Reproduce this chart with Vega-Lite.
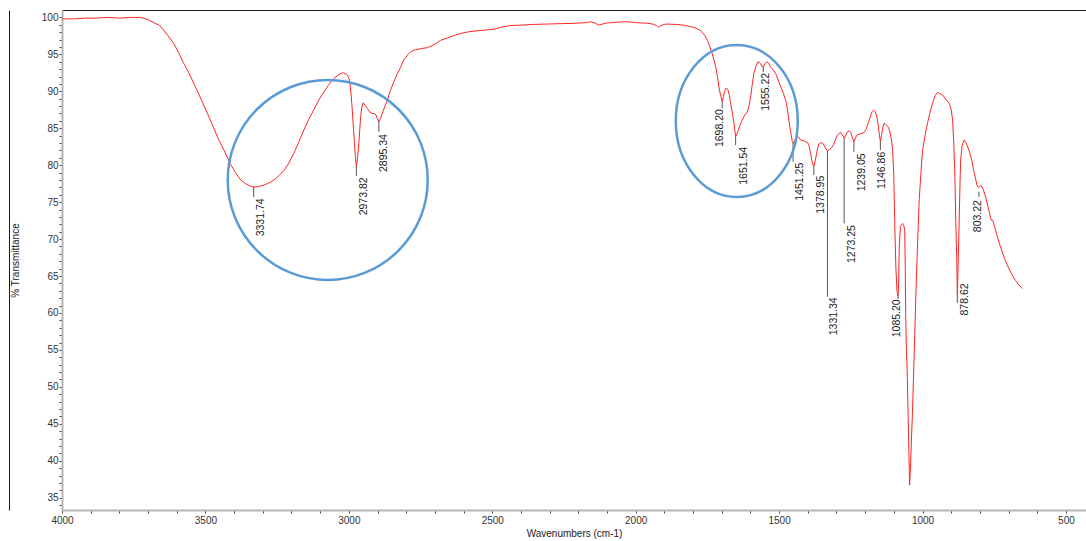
{
"$schema":"https://vega.github.io/schema/vega-lite/v6.json",
"width":1024,"height":500,
"autosize":{"type":"none"},
"padding":{"left":62,"top":10,"right":0,"bottom":31},
"background":"#ffffff",
"config":{"view":{"stroke":null},"font":"Liberation Sans","axis":{"labelFont":"Liberation Sans","titleFont":"Liberation Sans","grid":false}},
"datasets":{
"spectrum":[
{"wn":4000,"T":99.8},{"wn":3960,"T":99.8},{"wn":3920,"T":99.9},{"wn":3880,"T":99.9},{"wn":3840,"T":100.0},{"wn":3800,"T":99.9},{"wn":3760,"T":100.0},{"wn":3726,"T":100.0},{"wn":3700,"T":99.7},{"wn":3680,"T":99.3},{"wn":3660,"T":98.9},{"wn":3646,"T":98.3},{"wn":3630,"T":97.5},{"wn":3611,"T":96.5},{"wn":3593,"T":95.2},{"wn":3576,"T":93.8},{"wn":3558,"T":92.5},{"wn":3541,"T":91.1},{"wn":3517,"T":89.1},{"wn":3493,"T":87.0},{"wn":3475,"T":85.4},{"wn":3458,"T":83.8},{"wn":3435,"T":82.0},{"wn":3412,"T":80.1},{"wn":3395,"T":79.0},{"wn":3377,"T":78.0},{"wn":3360,"T":77.5},{"wn":3345,"T":77.2},{"wn":3331.74,"T":77.05},{"wn":3315,"T":77.1},{"wn":3296,"T":77.3},{"wn":3278,"T":77.6},{"wn":3261,"T":78.0},{"wn":3243,"T":78.6},{"wn":3226,"T":79.3},{"wn":3209,"T":80.3},{"wn":3192,"T":81.6},{"wn":3175,"T":83.1},{"wn":3157,"T":84.75},{"wn":3140,"T":86.2},{"wn":3122,"T":87.5},{"wn":3105,"T":88.8},{"wn":3087,"T":89.9},{"wn":3070,"T":90.9},{"wn":3052,"T":91.75},{"wn":3037,"T":92.2},{"wn":3023,"T":92.5},{"wn":3012,"T":92.4},{"wn":3005,"T":92.2},{"wn":3000,"T":91.8},{"wn":2996,"T":91.1},{"wn":2992,"T":89.5},{"wn":2988,"T":87.5},{"wn":2984,"T":85.0},{"wn":2980,"T":82.9},{"wn":2977,"T":81.0},{"wn":2973.82,"T":79.85},{"wn":2970,"T":80.8},{"wn":2965,"T":83.0},{"wn":2959,"T":86.5},{"wn":2954,"T":88.0},{"wn":2950,"T":88.45},{"wn":2943,"T":88.1},{"wn":2936,"T":87.7},{"wn":2927,"T":87.2},{"wn":2918,"T":87.0},{"wn":2912,"T":87.0},{"wn":2907,"T":86.9},{"wn":2900,"T":86.3},{"wn":2895.34,"T":85.85},{"wn":2890,"T":86.3},{"wn":2880,"T":87.4},{"wn":2866,"T":88.8},{"wn":2855,"T":90.1},{"wn":2843,"T":91.3},{"wn":2832,"T":92.3},{"wn":2820,"T":93.2},{"wn":2808,"T":94.3},{"wn":2791,"T":95.1},{"wn":2778,"T":95.5},{"wn":2767,"T":95.6},{"wn":2745,"T":95.8},{"wn":2726,"T":95.9},{"wn":2703,"T":96.3},{"wn":2680,"T":96.9},{"wn":2650,"T":97.3},{"wn":2622,"T":97.7},{"wn":2590,"T":98.0},{"wn":2552,"T":98.2},{"wn":2520,"T":98.3},{"wn":2494,"T":98.4},{"wn":2465,"T":98.7},{"wn":2436,"T":98.9},{"wn":2400,"T":98.95},{"wn":2355,"T":99.05},{"wn":2310,"T":99.1},{"wn":2262,"T":99.15},{"wn":2215,"T":99.2},{"wn":2168,"T":99.3},{"wn":2157,"T":99.4},{"wn":2145,"T":99.3},{"wn":2135,"T":99.1},{"wn":2128,"T":98.95},{"wn":2115,"T":99.1},{"wn":2100,"T":99.25},{"wn":2076,"T":99.3},{"wn":2050,"T":99.4},{"wn":2029,"T":99.4},{"wn":2000,"T":99.3},{"wn":1980,"T":99.25},{"wn":1959,"T":99.2},{"wn":1940,"T":99.1},{"wn":1928,"T":98.9},{"wn":1921,"T":98.65},{"wn":1912,"T":98.9},{"wn":1900,"T":99.05},{"wn":1890,"T":99.1},{"wn":1860,"T":99.05},{"wn":1832,"T":98.95},{"wn":1815,"T":98.8},{"wn":1797,"T":98.65},{"wn":1785,"T":98.45},{"wn":1773,"T":98.2},{"wn":1760,"T":97.6},{"wn":1750,"T":96.9},{"wn":1741,"T":96.0},{"wn":1733,"T":95.1},{"wn":1727,"T":94.2},{"wn":1721,"T":93.3},{"wn":1715,"T":92.0},{"wn":1710,"T":90.6},{"wn":1704,"T":89.5},{"wn":1698.2,"T":88.6},{"wn":1694,"T":89.3},{"wn":1690,"T":90.0},{"wn":1686,"T":90.4},{"wn":1682,"T":90.4},{"wn":1678,"T":90.15},{"wn":1673,"T":89.4},{"wn":1669,"T":88.35},{"wn":1663,"T":87.1},{"wn":1657,"T":85.65},{"wn":1651.54,"T":83.85},{"wn":1646,"T":84.3},{"wn":1640,"T":85.0},{"wn":1632,"T":85.8},{"wn":1623,"T":86.55},{"wn":1617,"T":86.9},{"wn":1611,"T":87.2},{"wn":1605,"T":88.0},{"wn":1599,"T":89.25},{"wn":1594,"T":90.8},{"wn":1588,"T":92.4},{"wn":1581,"T":93.4},{"wn":1574,"T":94.0},{"wn":1566,"T":93.8},{"wn":1560,"T":93.4},{"wn":1555.22,"T":93.3},{"wn":1550,"T":93.7},{"wn":1543,"T":94.0},{"wn":1536,"T":93.8},{"wn":1530,"T":93.3},{"wn":1521,"T":92.9},{"wn":1512,"T":92.4},{"wn":1503,"T":91.5},{"wn":1494,"T":90.6},{"wn":1485,"T":89.7},{"wn":1477,"T":88.8},{"wn":1471,"T":87.6},{"wn":1466,"T":86.1},{"wn":1460,"T":84.6},{"wn":1454,"T":83.2},{"wn":1451.25,"T":82.95},{"wn":1446,"T":83.3},{"wn":1441,"T":83.7},{"wn":1436,"T":83.85},{"wn":1430,"T":83.7},{"wn":1425,"T":83.4},{"wn":1419,"T":83.35},{"wn":1413,"T":83.3},{"wn":1407,"T":83.15},{"wn":1401,"T":83.1},{"wn":1396,"T":82.7},{"wn":1390,"T":81.6},{"wn":1385,"T":80.5},{"wn":1380,"T":79.85},{"wn":1378.95,"T":79.8},{"wn":1374,"T":80.6},{"wn":1370,"T":81.4},{"wn":1367,"T":82.05},{"wn":1361,"T":82.9},{"wn":1356,"T":83.05},{"wn":1349,"T":83.0},{"wn":1343,"T":82.7},{"wn":1338,"T":82.3},{"wn":1331.34,"T":81.95},{"wn":1325,"T":82.1},{"wn":1319,"T":82.3},{"wn":1314,"T":82.5},{"wn":1308,"T":83.0},{"wn":1303,"T":83.5},{"wn":1297,"T":84.05},{"wn":1291,"T":84.3},{"wn":1285,"T":84.4},{"wn":1279,"T":84.1},{"wn":1273.25,"T":83.6},{"wn":1268,"T":84.0},{"wn":1262,"T":84.5},{"wn":1256,"T":84.65},{"wn":1250,"T":84.4},{"wn":1245,"T":83.8},{"wn":1239.05,"T":83.15},{"wn":1234,"T":83.7},{"wn":1228,"T":84.1},{"wn":1221,"T":84.2},{"wn":1213,"T":84.3},{"wn":1204,"T":84.4},{"wn":1197,"T":84.8},{"wn":1192,"T":85.4},{"wn":1186,"T":86.1},{"wn":1180,"T":86.8},{"wn":1175,"T":87.3},{"wn":1171,"T":87.45},{"wn":1166,"T":87.3},{"wn":1162,"T":86.9},{"wn":1159,"T":86.5},{"wn":1155,"T":85.6},{"wn":1151,"T":84.3},{"wn":1146.86,"T":83.2},{"wn":1143,"T":84.0},{"wn":1139,"T":85.0},{"wn":1134,"T":85.65},{"wn":1128,"T":85.5},{"wn":1120,"T":85.2},{"wn":1114,"T":84.6},{"wn":1108,"T":83.4},{"wn":1104,"T":82.0},{"wn":1100,"T":78.5},{"wn":1097,"T":72.5},{"wn":1093,"T":66.3},{"wn":1089,"T":63.0},{"wn":1085.2,"T":62.2},{"wn":1083,"T":64.5},{"wn":1081,"T":69.0},{"wn":1077,"T":71.7},{"wn":1073,"T":72.0},{"wn":1069,"T":72.1},{"wn":1065,"T":71.8},{"wn":1062,"T":71.2},{"wn":1060,"T":66.0},{"wn":1058.5,"T":59.5},{"wn":1056,"T":55.0},{"wn":1053,"T":51.4},{"wn":1050,"T":46.0},{"wn":1047.4,"T":41.0},{"wn":1045,"T":36.7},{"wn":1042,"T":39.0},{"wn":1039,"T":42.4},{"wn":1035,"T":46.5},{"wn":1032,"T":50.5},{"wn":1027,"T":57.0},{"wn":1023,"T":62.7},{"wn":1017,"T":69.5},{"wn":1011.5,"T":75.3},{"wn":1005,"T":79.3},{"wn":1000,"T":82.0},{"wn":991,"T":84.0},{"wn":982.5,"T":85.7},{"wn":974,"T":87.1},{"wn":965,"T":88.4},{"wn":956,"T":89.4},{"wn":948,"T":89.85},{"wn":940,"T":89.7},{"wn":930,"T":89.5},{"wn":920,"T":89.0},{"wn":907,"T":88.4},{"wn":900,"T":87.5},{"wn":895,"T":86.1},{"wn":891,"T":83.0},{"wn":887,"T":78.4},{"wn":884,"T":72.5},{"wn":880.5,"T":67.2},{"wn":878.62,"T":62.5},{"wn":876.5,"T":65.5},{"wn":874,"T":69.5},{"wn":871,"T":74.5},{"wn":869,"T":78.0},{"wn":866.9,"T":80.7},{"wn":862,"T":82.6},{"wn":855.4,"T":83.4},{"wn":848,"T":83.0},{"wn":838,"T":82.05},{"wn":829,"T":80.8},{"wn":820.5,"T":79.1},{"wn":814,"T":78.0},{"wn":808.7,"T":77.1},{"wn":803.22,"T":77.0},{"wn":799,"T":77.2},{"wn":794.8,"T":77.2},{"wn":788,"T":76.7},{"wn":780,"T":75.7},{"wn":773,"T":74.6},{"wn":767,"T":73.6},{"wn":762.3,"T":72.8},{"wn":759,"T":72.5},{"wn":756.4,"T":72.6},{"wn":753,"T":72.3},{"wn":746,"T":71.3},{"wn":739,"T":70.3},{"wn":731,"T":69.3},{"wn":723,"T":68.4},{"wn":716,"T":67.6},{"wn":706,"T":66.6},{"wn":696,"T":65.8},{"wn":686.6,"T":65.1},{"wn":676,"T":64.4},{"wn":664,"T":63.8},{"wn":652,"T":63.3}
],
"peaks":[
{"label":"3331.74","wn":3331.74,"tick_top":77.05,"tick_bottom":75.69,"label_wn":3305,"label_T":75.51},
{"label":"2973.82","wn":2973.82,"tick_top":79.85,"tick_bottom":78.53,"label_wn":2947.3,"label_T":78.35},
{"label":"2895.34","wn":2895.34,"tick_top":85.85,"tick_bottom":84.52,"label_wn":2878,"label_T":84.21},
{"label":"1698.20","wn":1698.2,"tick_top":88.6,"tick_bottom":87.69,"label_wn":1707.6,"label_T":87.59},
{"label":"1651.54","wn":1651.54,"tick_top":83.85,"tick_bottom":82.72,"label_wn":1621.2,"label_T":82.49},
{"label":"1555.22","wn":1555.22,"tick_top":93.3,"tick_bottom":92.6,"label_wn":1544.8,"label_T":92.5},
{"label":"1451.25","wn":1451.25,"tick_top":82.95,"tick_bottom":80.46,"label_wn":1427.9,"label_T":80.33},
{"label":"1378.95","wn":1378.95,"tick_top":79.8,"tick_bottom":78.66,"label_wn":1355.6,"label_T":78.57},
{"label":"1331.34","wn":1331.34,"tick_top":81.95,"tick_bottom":62.2,"label_wn":1308.3,"label_T":62.12},
{"label":"1273.25","wn":1273.25,"tick_top":83.6,"tick_bottom":72.13,"label_wn":1246.4,"label_T":71.9},
{"label":"1239.05","wn":1239.05,"tick_top":83.15,"tick_bottom":81.82,"label_wn":1212.2,"label_T":81.6},
{"label":"1146.86","wn":1146.86,"tick_top":83.2,"tick_bottom":82.05,"label_wn":1140.9,"label_T":81.82},
{"label":"1085.20","wn":1085.2,"tick_top":62.2,"tick_bottom":61.89,"label_wn":1088.7,"label_T":61.85},
{"label":"878.62","wn":878.62,"tick_top":62.5,"tick_bottom":61.35,"label_wn":852.1,"label_T":64.01},
{"label":"803.22","wn":803.22,"tick_top":76.4,"tick_bottom":75.69,"label_wn":805.7,"label_T":75.28}
]
},
"layer":[
{"data":{"name":"spectrum"},
 "mark":{"type":"line","color":"#ff2424","strokeWidth":1},
 "encoding":{
  "x":{"field":"wn","type":"quantitative","scale":{"domain":[430,4000],"reverse":true,"nice":false,"zero":false},
   "axis":{"orient":"bottom","title":"Wavenumbers (cm-1)","values":[4000,3900,3800,3700,3600,3500,3400,3300,3200,3100,3000,2900,2800,2700,2600,2500,2400,2300,2200,2100,2000,1900,1800,1700,1600,1500,1400,1300,1200,1100,1000,900,800,700,600,500],"format":"d","labelExpr":"datum.value % 500 === 0 ? datum.label : ''","labelOverlap":false,"labelFlush":false,"domainColor":"#b4b4b4","domainWidth":2,"tickColor":"#444444","tickSize":3,"labelFontSize":10,"labelColor":"#333333","labelPadding":2,"titleFontSize":10,"titleFontWeight":"normal","titleColor":"#222222","titlePadding":3}},
  "y":{"field":"T","type":"quantitative","scale":{"domain":[33.34,101],"nice":false,"zero":false},
   "axis":{"orient":"left","title":"% Transmittance","values":[34,35,36,37,38,39,40,41,42,43,44,45,46,47,48,49,50,51,52,53,54,55,56,57,58,59,60,61,62,63,64,65,66,67,68,69,70,71,72,73,74,75,76,77,78,79,80,81,82,83,84,85,86,87,88,89,90,91,92,93,94,95,96,97,98,99,100],"labelExpr":"datum.value % 5 === 0 ? datum.label : ''","labelOverlap":false,"domainColor":"#b4b4b4","domainWidth":2,"tickColor":"#444444","tickSize":3,"labelFontSize":10,"labelColor":"#333333","labelPadding":1,"titleFontSize":10,"titleFontWeight":"normal","titleColor":"#222222","titlePadding":21}}
 }},
{"data":{"name":"peaks"},
 "mark":{"type":"rule","color":"#555555","strokeWidth":1},
 "encoding":{
  "x":{"field":"wn","type":"quantitative","axis":{"orient":"top","title":null,"labels":false,"ticks":false,"domainColor":"#1a1a1a","domainWidth":1}},
  "y":{"field":"tick_top","type":"quantitative","axis":{"orient":"left","offset":53,"title":null,"labels":false,"ticks":false,"domainColor":"#1a1a1a","domainWidth":1}},
  "y2":{"field":"tick_bottom"}
 }},
{"data":{"name":"peaks"},
 "mark":{"type":"text","angle":270,"align":"right","baseline":"middle","fontSize":10.5,"font":"Liberation Sans","color":"#1a1a1a"},
 "encoding":{
  "x":{"field":"label_wn","type":"quantitative","axis":null},
  "y":{"field":"label_T","type":"quantitative","axis":null},
  "text":{"field":"label"}
 }},
{"data":{"values":[{"region":"O-H / C-H stretch","wn":3073.6,"T":78.0}]},
 "mark":{"type":"point","shape":"circle","size":40000,"filled":false,"color":"#5b9bd5","strokeWidth":2.5,"opacity":1},
 "encoding":{
  "x":{"field":"wn","type":"quantitative","axis":null},
  "y":{"field":"T","type":"quantitative","axis":null}
 }},
{"data":{"values":[{"region":"C=O / C=C region","wn":1647.5,"T":85.97}]},
 "mark":{"type":"point","shape":"M 0.8026,0 C 0.8026,0.5523 0.4433,1 0,1 C -0.4433,1 -0.8026,0.5523 -0.8026,0 C -0.8026,-0.5523 -0.4433,-1 0,-1 C 0.4433,-1 0.8026,-0.5523 0.8026,0 Z","size":23104,"filled":false,"color":"#5b9bd5","strokeWidth":2.5,"opacity":1},
 "encoding":{
  "x":{"field":"wn","type":"quantitative","axis":null},
  "y":{"field":"T","type":"quantitative","axis":null}
 }}
],
"resolve":{"axis":{"x":"independent","y":"independent"}}
}
